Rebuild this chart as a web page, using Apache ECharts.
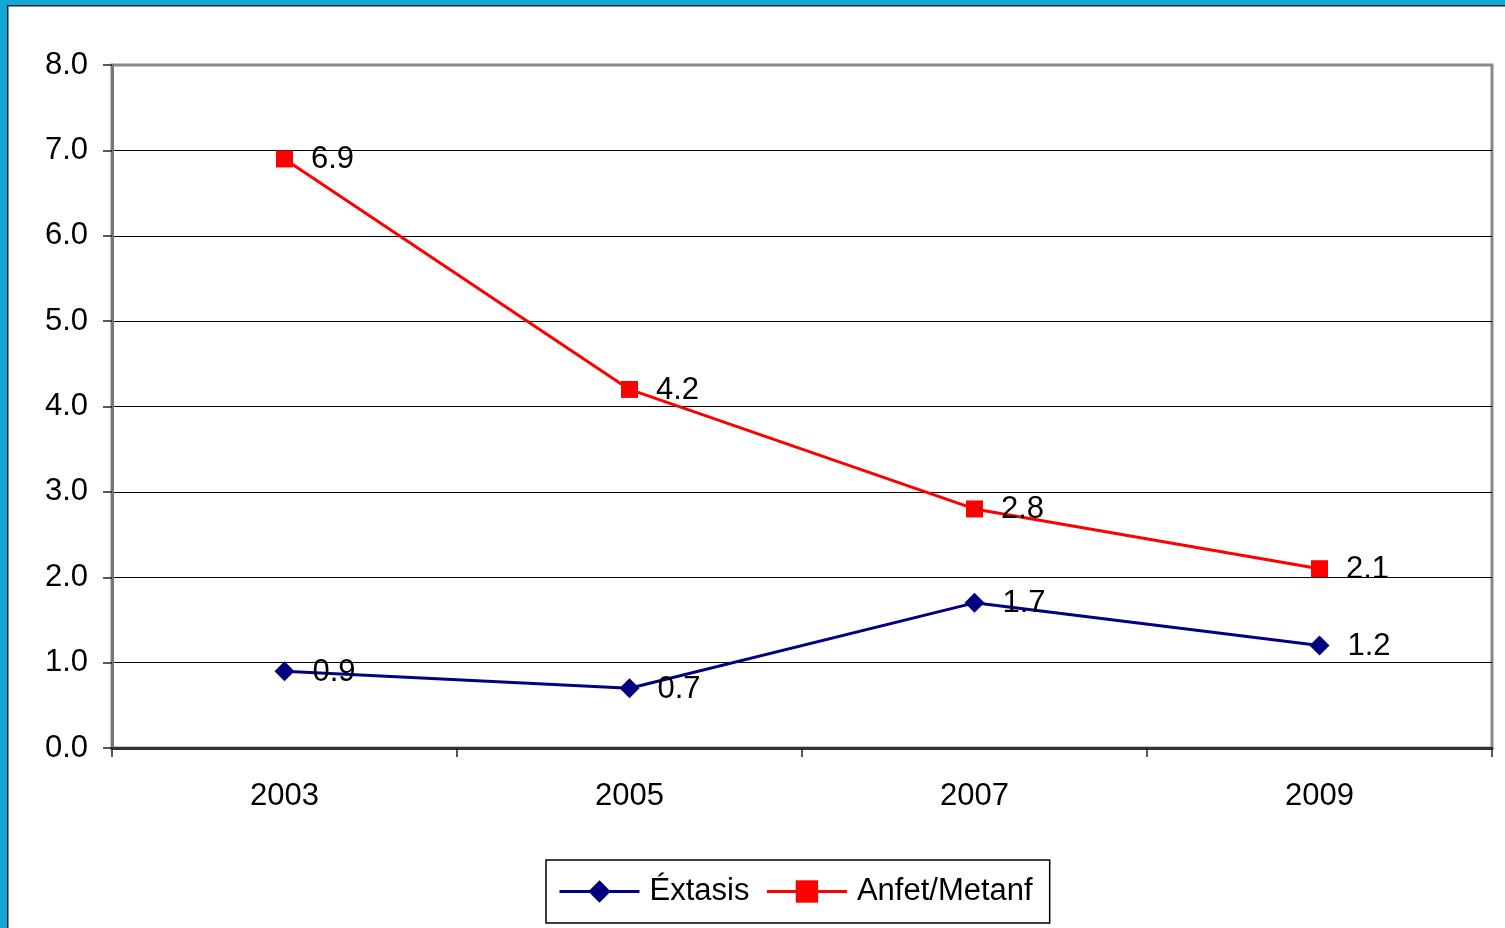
<!DOCTYPE html>
<html><head><meta charset="utf-8">
<script src="https://cdn.jsdelivr.net/npm/echarts@6/dist/echarts.min.js"></script>
<style>html,body{margin:0;padding:0;background:#fff}#c{width:1505px;height:928px}</style>
</head><body><div id="c"></div>
<script>
var categories = ['2003', '2005', '2007', '2009'];
var extasis = [0.9, 0.7, 1.7, 1.2];
var anfet = [6.9, 4.2, 2.8, 2.1];
var seriesNames = ['Éxtasis', 'Anfet/Metanf'];
var yTicks = {min: 0, max: 8, interval: 1};

var FONT = 'Liberation Sans, Arial, sans-serif';
var chart = echarts.init(document.getElementById('c'));
var labelCfg = {show: true, position: 'right', distance: 18, offset: [0, 1], color: '#000', fontSize: 31, fontFamily: FONT,
  formatter: function (p) { return p.value.toFixed(1); }};
chart.setOption({
  animation: false,
  backgroundColor: '#fff',
  graphic: [
    {type: 'rect', shape: {x: 0, y: 0, width: 1505, height: 5}, style: {fill: '#12A6D9'}, z: 100},
    {type: 'rect', shape: {x: 0, y: 0, width: 7, height: 928}, style: {fill: '#12A6D9'}, z: 100},
    {type: 'rect', shape: {x: 7, y: 5, width: 1498, height: 1.5}, style: {fill: '#222'}, z: 100},
    {type: 'rect', shape: {x: 7, y: 5, width: 1.5, height: 923}, style: {fill: '#222'}, z: 100}
  ],
  grid: {left: 112, right: 13, top: 65, bottom: 180, show: true, borderColor: '#888', borderWidth: 3, backgroundColor: 'transparent'},
  legend: {
    left: 546, top: 860, padding: [16, 17, 16, 12], itemGap: 16, itemWidth: 80, itemHeight: 28,
    borderColor: '#000', borderWidth: 1.5, backgroundColor: '#fff',
    lineStyle: {width: 3},
    textStyle: {fontSize: 31, color: '#000', fontFamily: FONT, padding: [0, 0, 0, 5]},
    data: seriesNames
  },
  xAxis: {
    type: 'category', data: categories, boundaryGap: true,
    axisLine: {lineStyle: {color: '#333', width: 3}},
    axisTick: {show: true, length: 9, inside: false, alignWithLabel: false, lineStyle: {color: '#222', width: 1.5}},
    axisLabel: {margin: 33, fontSize: 31, color: '#000', fontFamily: FONT},
    splitLine: {show: false}
  },
  yAxis: {
    type: 'value', min: yTicks.min, max: yTicks.max, interval: yTicks.interval,
    axisLine: {show: true, lineStyle: {color: '#777', width: 3}},
    axisTick: {show: true, length: 9, lineStyle: {color: '#222', width: 1.5}},
    axisLabel: {margin: 24, fontSize: 31, color: '#000', fontFamily: FONT,
      formatter: function (v) { return v.toFixed(1); }},
    splitLine: {show: true, showMaxLine: false, showMinLine: false, lineStyle: {color: '#000', width: 1}}
  },
  series: [
    {name: seriesNames[0], type: 'line', data: extasis, symbol: 'diamond', symbolSize: 20,
      lineStyle: {color: '#000080', width: 3}, itemStyle: {color: '#000080'}, label: labelCfg, z: 3},
    {name: seriesNames[1], type: 'line', data: anfet, symbol: 'rect', symbolSize: 17,
      lineStyle: {color: '#FF0000', width: 3}, itemStyle: {color: '#FF0000'}, label: labelCfg, z: 4}
  ]
});
</script></body></html>
